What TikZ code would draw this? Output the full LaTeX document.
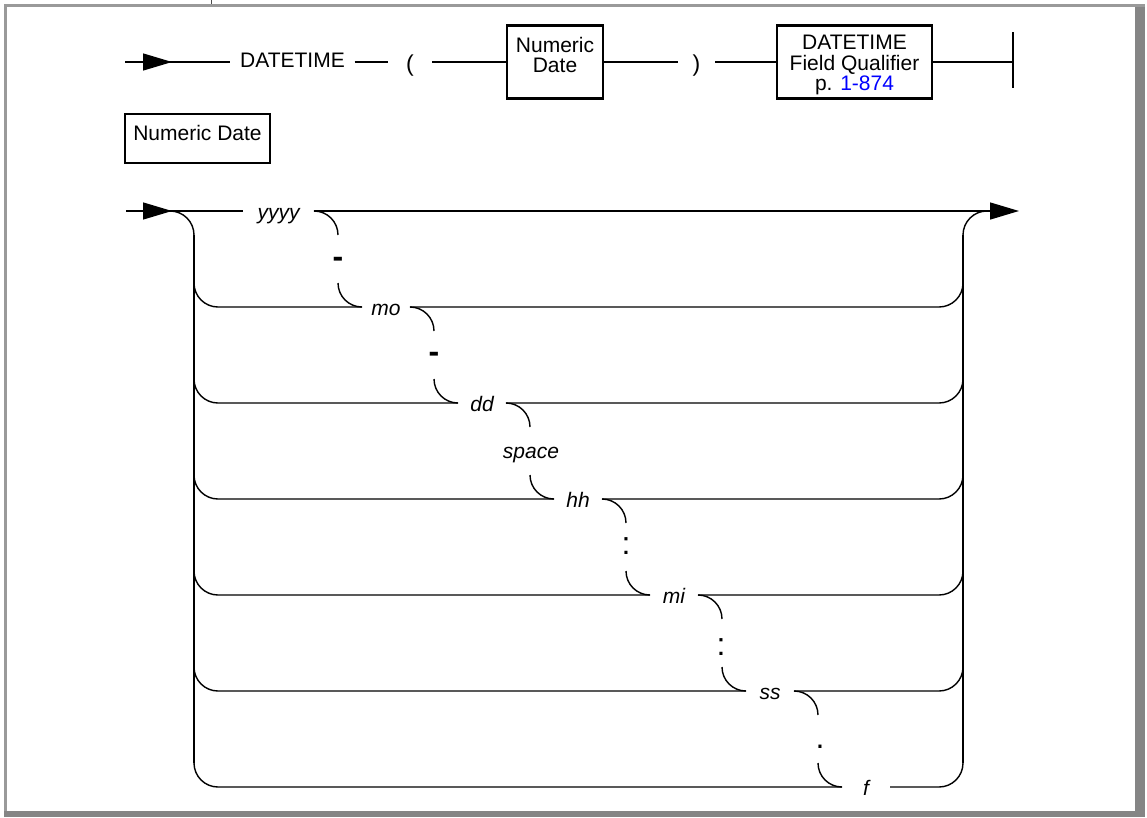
\documentclass[tikz,border=0pt]{standalone}
\usepackage{fontspec}
\setmainfont{Liberation Sans}
\usetikzlibrary{arrows.meta}
\definecolor{framegray}{HTML}{9A9A9A}
\definecolor{bargray}{HTML}{858585}
\definecolor{linkblue}{HTML}{0000FF}

\begin{document}
\begin{tikzpicture}[x=1pt,y=-1pt,
  rail/.style={line width=1.4pt},
  rc/.style={rounded corners=24pt},
  head/.style={-{Triangle[length=29pt,width=17pt]}},
  stepbox/.style={draw,line width=2.2pt,inner sep=0pt},
  body/.style={font=\fontsize{21}{20.5}\selectfont,inner sep=0pt},
  paren/.style={font=\fontsize{23}{23}\selectfont,inner sep=0pt,text height=18pt,text depth=0pt},
  word/.style={font=\fontsize{21}{21}\selectfont\itshape,inner sep=0pt,
               text height=16pt,text depth=0pt,minimum width=48pt},
  joiner/.style={font=\fontsize{32}{32}\selectfont,inner sep=0pt,anchor=base},
  joinerbold/.style={font=\fontsize{32}{32}\selectfont\bfseries,inner sep=0pt,anchor=base},
]
\useasboundingbox (0,0) rectangle (1147,817);

% page frame
\fill[framegray] (4,4) rectangle (1145,7);
\fill[framegray] (4,4) rectangle (7,811);
\fill[bargray] (1135,7) rectangle (1145,817);
\fill[bargray] (4,811) rectangle (1145,817);
\draw[line width=1pt,black!70] (211,0) -- (211,4);

% ---- DATETIME ( Numeric Date ) Field Qualifier
\coordinate (s0) at (125,62);
\node[body,text height=10pt,text depth=0pt,inner xsep=9.5pt] (dt) at (292.5,62) {DATETIME};
\node[paren,minimum width=44pt] (lp) at (410,62) {(};
\node[stepbox,minimum width=96pt,minimum height=73pt] (nd) at (555,62) {};
\node[body,align=center,anchor=north] (ndt) at (555,37) {Numeric\\Date};
\node[paren,minimum width=37pt] (rp) at (696.5,62) {)};
\node[stepbox,minimum width=155pt,minimum height=73pt] (fq) at (854.5,62) {};
\node[body,align=center,anchor=north] (fqt) at (854.5,35)
  {DATETIME\\Field Qualifier\\p. \textcolor{linkblue}{1-874}};
\coordinate (bar) at (1013,62);
\coordinate (bartop) at (1013,32);
\coordinate (barbot) at (1013,88);

\draw[rail] (s0) -- (dt.west);
\draw[rail,head] (s0) -- (172,62);
\draw[rail] (dt.east) -- (lp.west);
\draw[rail] (lp.east) -- (nd.west);
\draw[rail] (nd.east) -- (rp.west);
\draw[rail] (rp.east) -- (fq.west);
\draw[rail] (fq.east) -- (bar);
\draw[rail] (bartop) -- (barbot);

% ---- Numeric Date heading
\node[stepbox,minimum width=145pt,minimum height=49pt] (ndb) at (197.5,138.5) {};
\node[body,anchor=north] (ndbt) at (197.5,125) {Numeric Date};

% ---- Numeric Date syntax
\coordinate (r0) at (126,211);
\node[word,minimum width=71pt] (w1) at (278.5,211) {yyyy};
\draw[rail] (r0) -- (w1.west);
\draw[rail,head] (r0) -- (172,211);
\draw[rail,rc] (170,211) -| (194,235);
\draw[rail] (194,235) -- (194,763);
\draw[rail] (963,235) -- (963,763);
\draw[rail,rc] (963,235) |- (988,211);
\draw[rail,head] (w1.east) -- (1019,211);
\draw[rail,rc] (w1.east) -| (338,235);

\foreach \k/\txt in {2/mo,3/dd,4/hh,5/mi,6/ss,7/f}{
  \pgfmathsetmacro\ry{211+96*(\k-1)}
  \pgfmathsetmacro\xu{338+96*(\k-2)}
  \node[word] (w\k) at (\xu+48,\ry) {\txt};
  \draw[rail,rc] (194,\ry-24) |- (w\k.west);
  \draw[rail,rc] (w\k.east) -| (963,\ry-24);
  \draw[rail,rc] (\xu,\ry-24) |- (w\k.west);
}
\foreach \k in {2,...,6}{
  \pgfmathsetmacro\ry{211+96*(\k-1)}
  \pgfmathsetmacro\xd{338+96*(\k-1)}
  \draw[rail,rc] (w\k.east) -| (\xd,\ry+24);
}

% separators between the fields
\node[joinerbold] (c1) at (338,267) {-};
\node[joinerbold] (c2) at (434,362) {-};
\node[font=\fontsize{21}{21}\selectfont\itshape,inner sep=0pt,anchor=base] (c3) at (531,458) {space};
\node[joiner] (c4) at (626,554) {:};
\node[joiner] (c5) at (721,655) {:};
\node[joiner] (c6) at (820,748) {.};
\end{tikzpicture}
\end{document}
